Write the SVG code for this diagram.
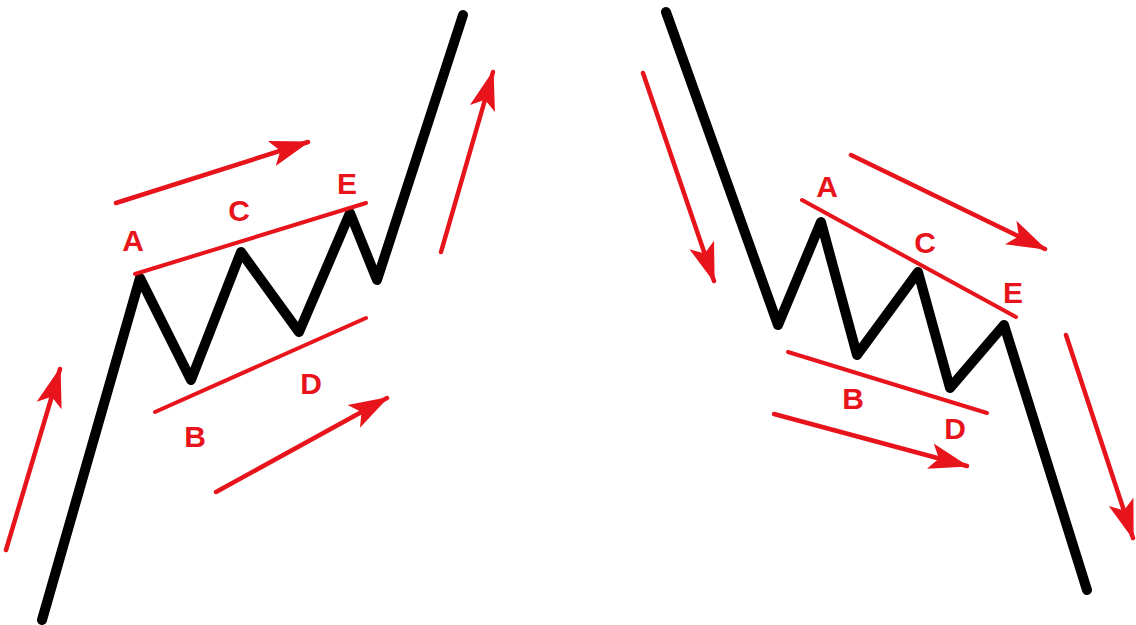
<svg xmlns="http://www.w3.org/2000/svg" width="1136" height="625" viewBox="0 0 1136 625">
<style>
.wave{fill:none;stroke:#000;stroke-width:10;stroke-linejoin:round;stroke-linecap:round}
.trend{stroke:#e8141c;stroke-width:4;stroke-linecap:round;fill:none}
.arr{stroke:#e8141c;stroke-width:4.5;stroke-linecap:round;fill:none;marker-end:url(#ah)}
.lbl{font-family:"Liberation Sans",Arial,sans-serif;font-weight:bold;font-size:30px;fill:#e8141c;text-anchor:middle}
</style>
<defs>
<marker id="ah" markerUnits="userSpaceOnUse" markerWidth="44" markerHeight="32" viewBox="0 -16 44 32" refX="38" refY="0" orient="auto">
<path d="M0,-13 L40,0 L0,13 L9,0 Z" fill="#e8141c"/>
</marker>
</defs>
<rect width="1136" height="625" fill="#fff"/>
<g id="left-wave"><polyline class="wave" points="42,620 140,278 191,380 241,252 299,332 350,213 377,280 463,15"/></g>
<g id="right-wave"><polyline class="wave" points="666,12 778,325 821,222 857,355 918,272 950,388 1004,325 1087,590"/></g>
<g id="connectors">
<line class="trend" x1="135" y1="274" x2="366" y2="203"/>
<line class="trend" x1="155" y1="412" x2="366" y2="318"/>
<line class="arr" x1="116" y1="203" x2="308" y2="142"/>
<line class="arr" x1="216" y1="492" x2="387" y2="398"/>
<line class="arr" x1="6" y1="550" x2="60" y2="369"/>
<line class="arr" x1="441" y1="252" x2="493" y2="72"/>
<line class="trend" x1="802" y1="200" x2="1016" y2="317"/>
<line class="trend" x1="788" y1="352" x2="987" y2="413"/>
<line class="arr" x1="851" y1="155" x2="1045" y2="249"/>
<line class="arr" x1="774" y1="414" x2="967" y2="466"/>
<line class="arr" x1="643" y1="73" x2="714" y2="281"/>
<line class="arr" x1="1066" y1="335" x2="1133" y2="538"/>
</g>
<g id="labels-left">
<text class="lbl" x="133" y="251">A</text>
<text class="lbl" x="239" y="221">C</text>
<text class="lbl" x="347" y="194">E</text>
<text class="lbl" x="195" y="447">B</text>
<text class="lbl" x="311" y="394">D</text>
</g>
<g id="labels-right">
<text class="lbl" x="827" y="197">A</text>
<text class="lbl" x="925" y="253">C</text>
<text class="lbl" x="1013" y="303">E</text>
<text class="lbl" x="853" y="409">B</text>
<text class="lbl" x="955" y="439">D</text>
</g>
</svg>
